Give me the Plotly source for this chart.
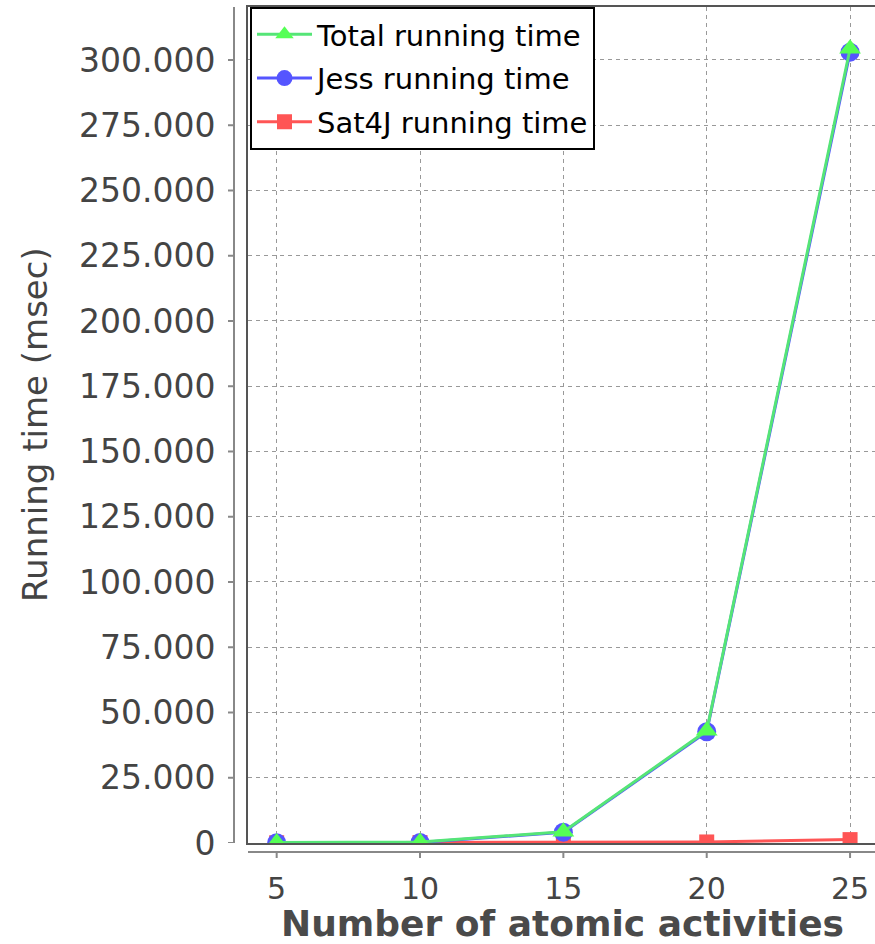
import plotly.graph_objects as go

activities = [5, 10, 15, 20, 25]
total_time = [180, 350, 4300, 43000, 304300]
jess_time = [80, 200, 4100, 42600, 303000]
sat4j_time = [100, 150, 200, 400, 1300]
y_ticks = [0, 25000, 50000, 75000, 100000, 125000, 150000, 175000,
           200000, 225000, 250000, 275000, 300000]
x_ticks = [5, 10, 15, 20, 25]

W, H = 875, 944
L, R, T, B = 248, 0, 7, 101
pw, ph = W - L - R, H - T - B


def px_x(p):
    return (p - L) / pw


def px_y(p):
    return (H - B - p) / ph


fig = go.Figure()
fig.add_trace(go.Scatter(x=activities, y=sat4j_time, name="Sat4J running time",
                         mode="lines+markers", legendgroup="c", legendrank=3,
                         line=dict(color="#FF5555", width=3),
                         marker=dict(symbol="square", size=15, color="#FF5555")))
fig.add_trace(go.Scatter(x=activities, y=jess_time, name="Jess running time",
                         mode="lines+markers", legendgroup="b", legendrank=2,
                         line=dict(color="#5555FF", width=3),
                         marker=dict(symbol="circle", size=19, color="#5555FF")))
fig.add_trace(go.Scatter(x=activities, y=total_time, name="Total running time",
                         mode="lines+markers", legendgroup="a", legendrank=1,
                         line=dict(color="#55E577", width=3),
                         marker=dict(symbol="triangle-up", size=19, color="#55FF55")))

font = "DejaVu Sans"
shapes = []
# offset y axis line and ticks
shapes.append(dict(type="line", xref="paper", yref="paper", x0=px_x(234), x1=px_x(234),
                   y0=0, y1=1, line=dict(color="#888888", width=2)))
for v in y_ticks:
    shapes.append(dict(type="line", xref="paper", yref="y", x0=px_x(228), x1=px_x(234),
                       y0=v, y1=v, line=dict(color="#888888", width=2)))
# offset x axis line and ticks
shapes.append(dict(type="line", xref="paper", yref="paper", x0=0, x1=1,
                   y0=px_y(852), y1=px_y(852), line=dict(color="#888888", width=2)))
for v in x_ticks:
    shapes.append(dict(type="line", xref="x", yref="paper", x0=v, x1=v,
                       y0=px_y(852), y1=px_y(858), line=dict(color="#888888", width=2)))

fig.update_layout(
    width=W, height=H,
    margin=dict(l=L, r=R, t=T, b=B, autoexpand=False),
    paper_bgcolor="white", plot_bgcolor="white",
    separators=",.",
    showlegend=True,
    legend=dict(x=px_x(250), y=1, xanchor="left", yanchor="top",
                bgcolor="white", bordercolor="black", borderwidth=2,
                font=dict(family=font, size=29, color="#000000"),
                traceorder="grouped", tracegroupgap=3,
                itemwidth=55),
    xaxis=dict(range=[4.0, 25.87], tickvals=x_ticks, ticktext=[str(v) for v in x_ticks],
               showgrid=True, gridcolor="#999999", griddash="4px,4px", gridwidth=1,
               showline=True, linecolor="#555555", linewidth=2, mirror=True,
               zeroline=False, ticks="outside", ticklen=18, tickcolor="rgba(0,0,0,0)",
               tickfont=dict(family=font, size=30, color="#444444")),
    yaxis=dict(range=[0, 320300], tickvals=y_ticks, tickformat=",.0f",
               showgrid=True, gridcolor="#999999", griddash="4px,4px", gridwidth=1,
               showline=True, linecolor="#555555", linewidth=2, mirror=False,
               zeroline=False, ticks="outside", ticklen=24, tickcolor="rgba(0,0,0,0)",
               tickfont=dict(family=font, size=33, color="#444444")),
    shapes=shapes,
    annotations=[
        dict(text="<b>Number of atomic activities</b>", xref="paper", yref="paper",
             x=px_x(562), y=px_y(923), xanchor="center", yanchor="middle",
             showarrow=False, font=dict(family=font, size=36, color="#4a4a4a")),
        dict(text="Running time (msec)", xref="paper", yref="paper",
             x=px_x(35), y=px_y(425), xanchor="center", yanchor="middle",
             textangle=-90, showarrow=False,
             font=dict(family=font, size=34, color="#444444")),
    ],
)

fig.write_html("out.html", config={"displayModeBar": False},
               post_script="document.body.style.margin='0';")
